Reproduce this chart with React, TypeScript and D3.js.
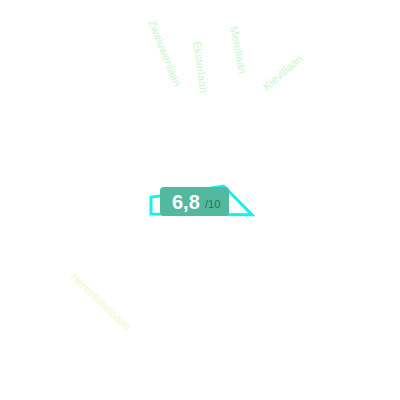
import * as d3 from "d3";

// axis names
const streets = ["Zwaluwenlaan", "Eksterlaan", "Merellaan", "Kievitlaan", "Herentalsebaan"];
const streetColors = ["#c9f7ce", "#c9f7ce", "#c9f7ce", "#c9f7ce", "#f0f8cc"];

// outline of the score shape (x, y in 0..10 units)
const shapeX = [0, 0, 7.2, 10];
const shapeY = [0, 6, 10, -0.3];

const score = 6.8;
const scoreMax = 10;

// label placement: baseline start point + rotation
const labelLayout = [
  { x: 148, y: 22, rotate: 68 },
  { x: 193, y: 42, rotate: 82 },
  { x: 230, y: 27, rotate: 79 },
  { x: 267, y: 91, rotate: -41 },
  { x: 70, y: 278, rotate: 43 },
];

const W = 400;
const H = 400;

export default function App() {
  const x = d3.scaleLinear().domain([0, 10]).range([151, 252]);
  const y = d3.scaleLinear().domain([0, 10]).range([214, 186]);

  const pts: [number, number][] = shapeX.map((v, i) => [x(v), y(shapeY[i])]);
  const line = d3.line().curve(d3.curveLinearClosed);

  const fmt = (v: number) => d3.format(".1f")(v).replace(".", ",");

  return (
    <svg
      width={W}
      height={H}
      style={{ position: "absolute", left: 0, top: 0, fontFamily: "Liberation Sans, Arial, sans-serif" }}
    >
      <rect width={W} height={H} fill="#fff" />
      {streets.map((s, i) => {
        const l = labelLayout[i];
        return (
          <text
            key={s}
            transform={`translate(${l.x},${l.y}) rotate(${l.rotate})`}
            fontSize={11}
            fill={streetColors[i]}
          >
            {s}
          </text>
        );
      })}
      <path d={line(pts) || ""} fill="none" stroke="#19f0ee" strokeWidth={3} strokeLinejoin="miter" />
      <g transform="translate(160,187)">
        <rect width={69} height={29} rx={4} fill="#52b89e" />
        <text x={12} y={22} fontSize={20} fontWeight="bold" fill="#fff">
          {fmt(score)}
        </text>
        <text x={45} y={21} fontSize={11} fill="#2f6e5e">
          /{scoreMax}
        </text>
      </g>
    </svg>
  );
}
